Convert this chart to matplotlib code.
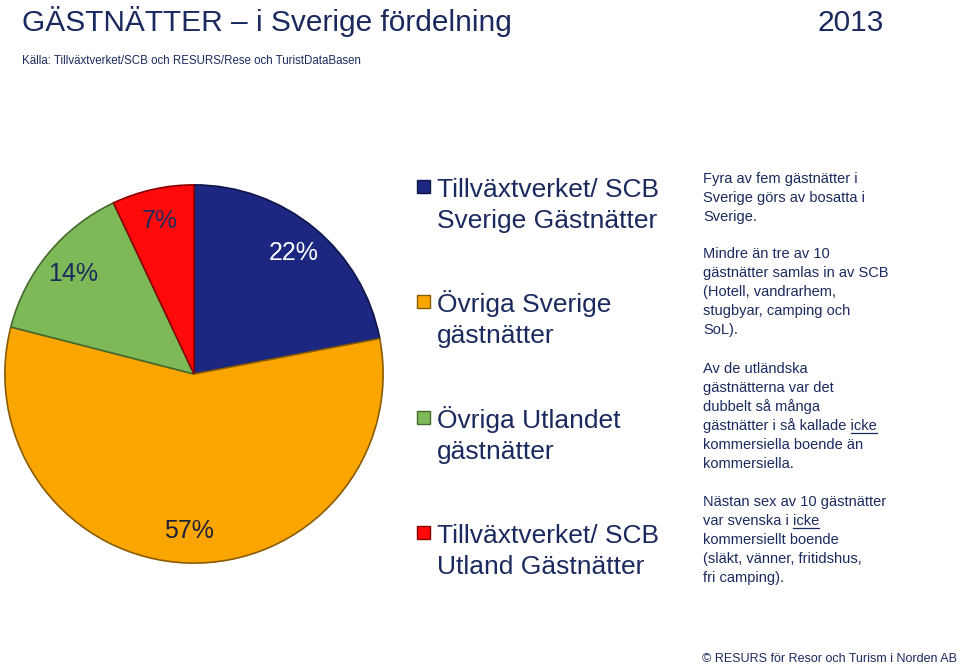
import matplotlib
matplotlib.use("Agg")
import matplotlib.pyplot as plt
from matplotlib.patches import Rectangle

plt.rcParams['font.family'] = ['Liberation Sans', 'DejaVu Sans']

# data
categories = ['Tillväxtverket/ SCB\nSverige Gästnätter',
              'Övriga Sverige\ngästnätter',
              'Övriga Utlandet\ngästnätter',
              'Tillväxtverket/ SCB\nUtland Gästnätter']
shares = [22, 57, 14, 7]
colors = ['#1B2780', '#FBA500', '#7DB956', '#FF0A0A']
edges = ['#0E1548', '#8A5C00', '#466B2E', '#8A0000']
label_colors = ['white', '#1B2238', '#1B2A5E', '#1B2A5E']

notes = [
    ['Fyra av fem gästnätter i', 'Sverige görs av bosatta i', 'Sverige.'],
    ['Mindre än tre av 10', 'gästnätter samlas in av SCB', '(Hotell, vandrarhem,',
     'stugbyar, camping och', 'SoL).'],
    ['Av de utländska', 'gästnätterna var det', 'dubbelt så många',
     'gästnätter i så kallade icke', 'kommersiella boende än', 'kommersiella.'],
    ['Nästan sex av 10 gästnätter', 'var svenska i icke', 'kommersiellt boende',
     '(släkt, vänner, fritidshus,', 'fri camping).'],
]

W, H = 960, 665
navy = '#1B2A5E'

fig = plt.figure(figsize=(W / 100, H / 100), dpi=100)


def fy(py):
    return 1 - py / H


def fx(px):
    return px / W


# pie
ax = fig.add_axes([fx(3), fy(565), 382 / W, 382 / H])
wedges, texts, autotexts = ax.pie(
    shares, colors=colors, startangle=90, counterclock=False,
    autopct='%d%%', pctdistance=0.83,
    wedgeprops=dict(linewidth=1.2),
    textprops=dict(fontsize=18))
for w, ec in zip(wedges, edges):
    w.set_edgecolor(ec)
for t, c in zip(autotexts, label_colors):
    t.set_color(c)
ax.set_xlim(-1.01, 1.01)
ax.set_ylim(-1.01, 1.01)

# title
fig.text(fx(22), fy(31), 'GÄSTNÄTTER – i Sverige fördelning', fontsize=21.5,
         color=navy, va='baseline', ha='left')
fig.text(fx(884), fy(31), '2013', fontsize=21.5, color=navy,
         va='baseline', ha='right')
fig.text(fx(22), fy(64),
         'Källa: Tillväxtverket/SCB och RESURS/Rese och TuristDataBasen',
         fontsize=8.3, color=navy, va='baseline', ha='left')

# legend
legend_y = [197, 312, 428, 543]
for lab, col, ec, by in zip(categories, colors, edges, legend_y):
    fig.add_artist(Rectangle((fx(417), fy(by - 4)), 13 / W, 13 / H,
                             transform=fig.transFigure, facecolor=col,
                             edgecolor=ec, linewidth=1.0))
    for i, line in enumerate(lab.split('\n')):
        fig.text(fx(437), fy(by + i * 31), line, fontsize=19, color=navy,
                 va='baseline', ha='left')

# notes on the right
block_y = [183, 258, 373, 506]
step = 19
renderer = fig.canvas.get_renderer()
for block, by in zip(notes, block_y):
    for i, line in enumerate(block):
        y = fy(by + i * step)
        t = fig.text(fx(703), y, line, fontsize=10.5, color=navy,
                     va='baseline', ha='left')
        if line.endswith('icke'):
            full = t.get_window_extent(renderer)
            tmp = fig.text(0, 0, 'icke', fontsize=10.5)
            wd = tmp.get_window_extent(renderer).width
            tmp.remove()
            x1 = full.x1 / W
            x0 = (full.x1 - wd) / W
            uy = y - 3 / H
            fig.add_artist(plt.Line2D([x0, x1], [uy, uy], color=navy,
                                      linewidth=0.9, transform=fig.transFigure))

fig.text(fx(957), fy(662), '© RESURS för Resor och Turism i Norden AB',
         fontsize=9, color=navy, va='baseline', ha='right')

fig.savefig('out.png', dpi=100)
